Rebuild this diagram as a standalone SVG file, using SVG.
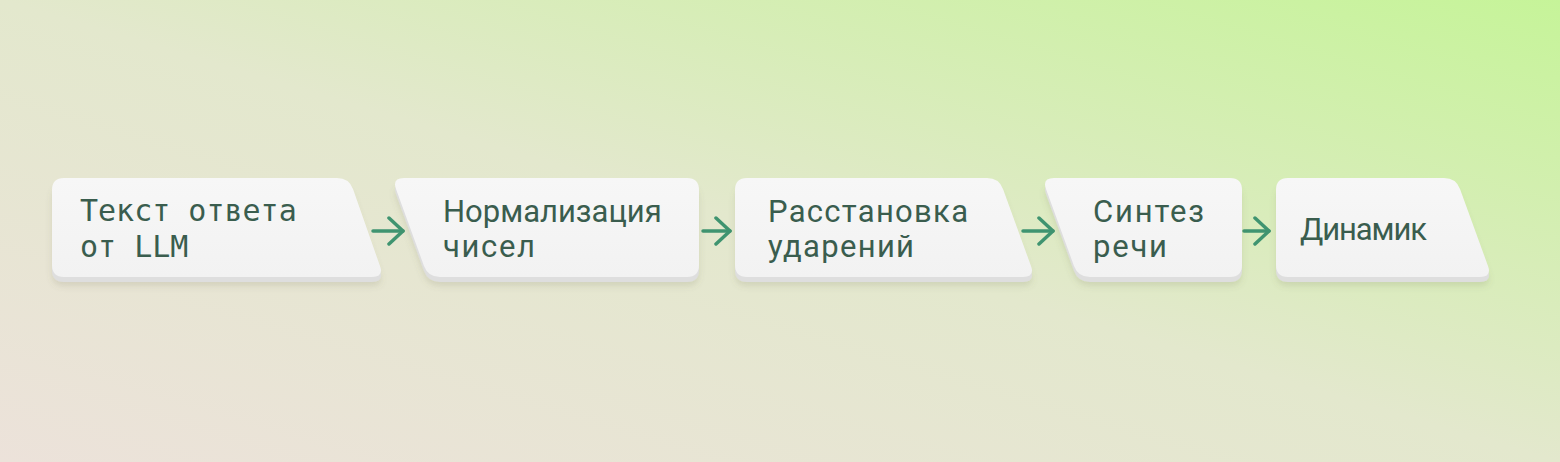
<svg xmlns="http://www.w3.org/2000/svg" xmlns:xlink="http://www.w3.org/1999/xlink" width="1560" height="462" viewBox="0 0 1560 462">
  <defs>
    <linearGradient id="bg" x1="0" y1="1" x2="1" y2="0">
      <stop offset="0" stop-color="#ece2da"/>
      <stop offset="0.5" stop-color="#e3e8cd"/>
      <stop offset="1" stop-color="#c6f499"/>
    </linearGradient>
    <linearGradient id="face" x1="0" y1="0" x2="0" y2="1">
      <stop offset="0" stop-color="#f7f7f7"/>
      <stop offset="1" stop-color="#f2f2f2"/>
    </linearGradient>
    <filter id="shadow" x="-10%" y="-20%" width="120%" height="150%">
      <feDropShadow dx="0" dy="4" stdDeviation="3" flood-color="#6b6b50" flood-opacity="0.16"/>
    </filter>
    <marker id="arrow" viewBox="0 0 18 30" markerWidth="18" markerHeight="30" refX="16" refY="15" markerUnits="userSpaceOnUse" orient="auto">
      <path d="M2,2 L16,15 L2,28" fill="none" stroke="#3f9470" stroke-width="3.5" stroke-linecap="round" stroke-linejoin="round"/>
    </marker>
    <path id="s1" d="M52,190 Q52,178 64,178 L337,178 Q349,178 353,189 L380,266 Q384,277 372,277 L64,277 Q52,277 52,265 Z"/>
    <path id="s2" d="M404,178 L687,178 Q699,178 699,190 L699,265 Q699,277 687,277 L440,277 Q428,277 424,266 L396,189 Q392,178 404,178 Z"/>
    <path id="s3" d="M747,178 L987,178 Q999,178 1003,189 L1031,266 Q1035,277 1023,277 L747,277 Q735,277 735,265 L735,190 Q735,178 747,178 Z"/>
    <path id="s4" d="M1054,178 L1230,178 Q1242,178 1242,190 L1242,265 Q1242,277 1230,277 L1090,277 Q1078,277 1074,266 L1046,189 Q1042,178 1054,178 Z"/>
    <path id="s5" d="M1288,178 L1444,178 Q1456,178 1460,189 L1488,266 Q1492,277 1480,277 L1288,277 Q1276,277 1276,265 L1276,190 Q1276,178 1288,178 Z"/>
  </defs>
  <style>
    .base { fill: #dedede; filter: url(#shadow); }
    .face { fill: url(#face); }
    .lbl { fill: #3a5d4e; font-family: Roboto, "Noto Sans", "DejaVu Sans", sans-serif; font-size: 31px; }
    .mono { fill: #3a5d4e; font-family: "DejaVu Sans Mono", "Liberation Mono", monospace; font-size: 30px; }
    .conn { stroke: #3f9470; stroke-width: 3.5; fill: none; stroke-linecap: round; marker-end: url(#arrow); }
  </style>
  <rect x="0" y="0" width="1560" height="462" fill="url(#bg)"/>

  <g id="connectors">
    <line class="conn" x1="373" y1="231" x2="403" y2="231"/>
    <line class="conn" x1="703" y1="231" x2="730" y2="231"/>
    <line class="conn" x1="1023" y1="231" x2="1053" y2="231"/>
    <line class="conn" x1="1244" y1="231" x2="1269" y2="231"/>
  </g>

  <g id="node-text-llm">
    <use xlink:href="#s1" class="base" transform="translate(0,5)"/>
    <use xlink:href="#s1" class="face"/>
    <text class="mono" x="80" y="221">Текст ответа</text>
    <text class="mono" x="80" y="257">от LLM</text>
  </g>
  <g id="node-normalize">
    <use xlink:href="#s2" class="base" transform="translate(0,5)"/>
    <use xlink:href="#s2" class="face"/>
    <text class="lbl" x="443" y="222">Нормализация</text>
    <text class="lbl" x="443" y="257" textLength="92" lengthAdjust="spacing">чисел</text>
  </g>
  <g id="node-stress">
    <use xlink:href="#s3" class="base" transform="translate(0,5)"/>
    <use xlink:href="#s3" class="face"/>
    <text class="lbl" x="768" y="222" textLength="200" lengthAdjust="spacing">Расстановка</text>
    <text class="lbl" x="768" y="257" textLength="146" lengthAdjust="spacing">ударений</text>
  </g>
  <g id="node-synth">
    <use xlink:href="#s4" class="base" transform="translate(0,5)"/>
    <use xlink:href="#s4" class="face"/>
    <text class="lbl" x="1093" y="222" textLength="111" lengthAdjust="spacing">Синтез</text>
    <text class="lbl" x="1093" y="257" textLength="74" lengthAdjust="spacing">речи</text>
  </g>
  <g id="node-speaker">
    <use xlink:href="#s5" class="base" transform="translate(0,5)"/>
    <use xlink:href="#s5" class="face"/>
    <text class="lbl" x="1300" y="240" textLength="127" lengthAdjust="spacing">Динамик</text>
  </g>
</svg>
